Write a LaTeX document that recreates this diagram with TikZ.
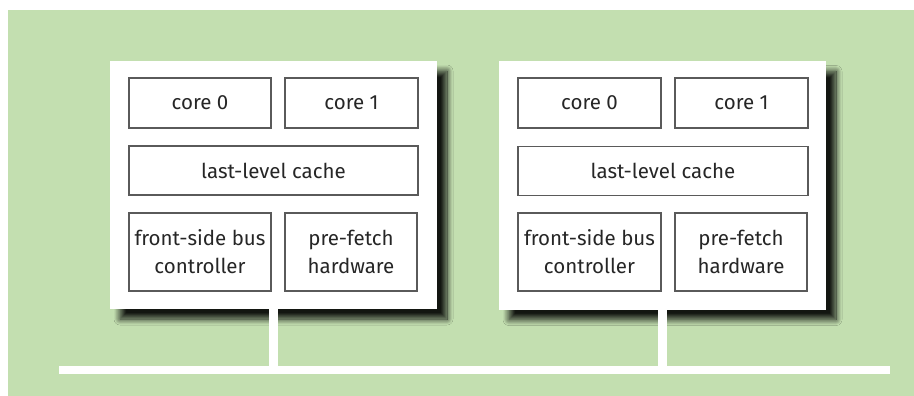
\documentclass[tikz,border=0pt]{standalone}
\usepackage{fontspec}
\setmainfont{Fira Sans}
\usetikzlibrary{shadows.blur}
\definecolor{bggreen}{HTML}{C3DFB0}
\definecolor{boxline}{HTML}{5A5A5A}
\definecolor{txt}{HTML}{262626}
\tikzset{
  chip/.style={fill=white, draw=none, minimum width=327pt, minimum height=248pt, inner sep=0pt,
    blur shadow={shadow xshift=10pt, shadow yshift=-10pt, shadow blur radius=6pt, shadow blur steps=14,
      shadow opacity=90}},
  unit/.style={draw=boxline, line width=1.3pt, fill=white, inner sep=0pt, text=txt,
    font=\fontsize{20.5}{28}\selectfont, align=center},
  buswire/.style={draw=white, line width=8pt},
  stub/.style={draw=white, line width=9pt}
}
\begin{document}
\begin{tikzpicture}[x=1pt, y=-1pt]
  \useasboundingbox (0,0) rectangle (914,396);
  \fill[bggreen] (8,10) rectangle (914,396);

  % two processor packages
  \node[chip] (pkgA) at (273.5,185) {};
  \node[chip] (pkgB) at (662.5,185.5) {};

  % bus and its taps
  \coordinate (busL) at (59,370);
  \coordinate (busR) at (890,370);
  \draw[buswire] (busL) -- (busR);
  \draw[stub] (pkgA.south) -- (pkgA.south |- busL);
  \draw[stub] (pkgB.south) -- (pkgB.south |- busL);

  % units of package A
  \node[unit, minimum width=142pt, minimum height=50pt] (a0) at (200,103) {core 0};
  \node[unit, minimum width=133pt, minimum height=50pt] (a1) at (351.5,103) {core 1};
  \node[unit, minimum width=289pt, minimum height=49pt] (allc) at (273.5,170.5) {last-level cache};
  \node[unit, minimum width=142pt, minimum height=78pt] (afsb) at (200,252) {front-side bus\\controller};
  \node[unit, minimum width=132pt, minimum height=78pt] (apf) at (351,252) {pre-fetch\\hardware};

  % units of package B
  \node[unit, minimum width=143pt, minimum height=50pt] (b0) at (589.5,103) {core 0};
  \node[unit, minimum width=133pt, minimum height=50pt] (b1) at (741.5,103) {core 1};
  \node[unit, minimum width=290pt, minimum height=49pt] (bllc) at (663,171) {last-level cache};
  \node[unit, minimum width=143pt, minimum height=78pt] (bfsb) at (589.5,252) {front-side bus\\controller};
  \node[unit, minimum width=132pt, minimum height=78pt] (bpf) at (741,252) {pre-fetch\\hardware};
\end{tikzpicture}
\end{document}
